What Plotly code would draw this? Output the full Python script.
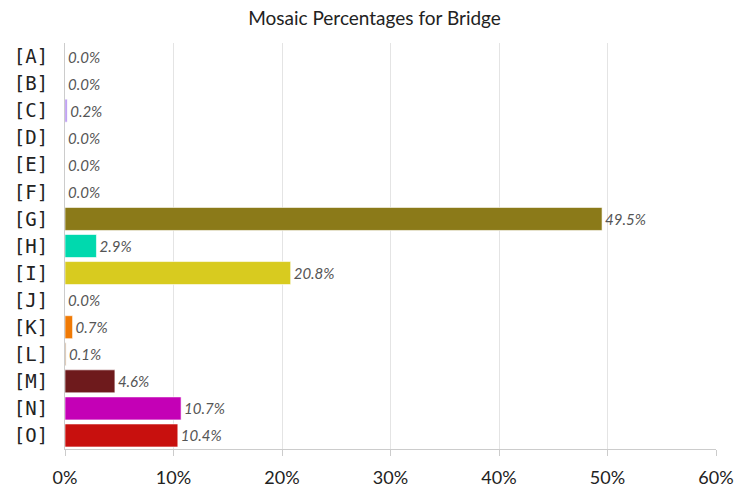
import plotly.graph_objects as go

categories = ["[A]", "[B]", "[C]", "[D]", "[E]", "[F]", "[G]", "[H]",
              "[I]", "[J]", "[K]", "[L]", "[M]", "[N]", "[O]"]
percentages = [0.0, 0.0, 0.2, 0.0, 0.0, 0.0, 49.5, 2.9,
               20.8, 0.0, 0.7, 0.1, 4.6, 10.7, 10.4]
bar_colors = ["#7a9ee0", "#6fb0c8", "#b18cf0", "#a0a0a0", "#90c090", "#e0a0a0",
              "#8b7a19", "#00d9ae", "#d8cb1f", "#a0a0d0", "#f07a05", "#c0a080",
              "#6e1a1c", "#c400b6", "#c8100e"]
x_ticks = [0, 10, 20, 30, 40, 50, 60]
x_tick_labels = ["0%", "10%", "20%", "30%", "40%", "50%", "60%"]

fig = go.Figure(go.Bar(
    x=percentages,
    y=categories,
    orientation="h",
    marker=dict(color=bar_colors, line=dict(color="rgba(255,255,255,0.6)", width=1)),
    text=[f"{v:.1f}%" for v in percentages],
    textposition="outside",
    textfont=dict(family="Lato", size=15, color="#555555", style="italic"),
    cliponaxis=False,
    hoverinfo="skip",
))

fig.update_layout(
    width=749, height=488,
    margin=dict(l=65, r=33, t=43, b=39),
    paper_bgcolor="white", plot_bgcolor="white",
    title=dict(text="Mosaic Percentages for Bridge", x=0.5, xanchor="center",
               y=0.962, yanchor="middle",
               font=dict(family="Lato", size=19, color="#222222")),
    bargap=0.15,
    showlegend=False,
)
fig.update_xaxes(
    range=[0, 60], tickvals=x_ticks, ticktext=x_tick_labels,
    showgrid=True, gridcolor="#e4e4e4", gridwidth=1,
    showline=True, linecolor="#cccccc", linewidth=1,
    ticks="outside", ticklen=6, tickcolor="#cccccc", ticklabelstandoff=6,
    tickfont=dict(family="Lato", size=18, color="#222222"),
    zeroline=False, automargin=False,
)
fig.update_yaxes(
    autorange="reversed",
    showline=True, linecolor="#cccccc", linewidth=1,
    ticks="", ticklabelstandoff=12,
    tickfont=dict(family="DejaVu Sans Mono", size=19, color="#222222"),
    automargin=False,
)

fig.write_html("out.html")
